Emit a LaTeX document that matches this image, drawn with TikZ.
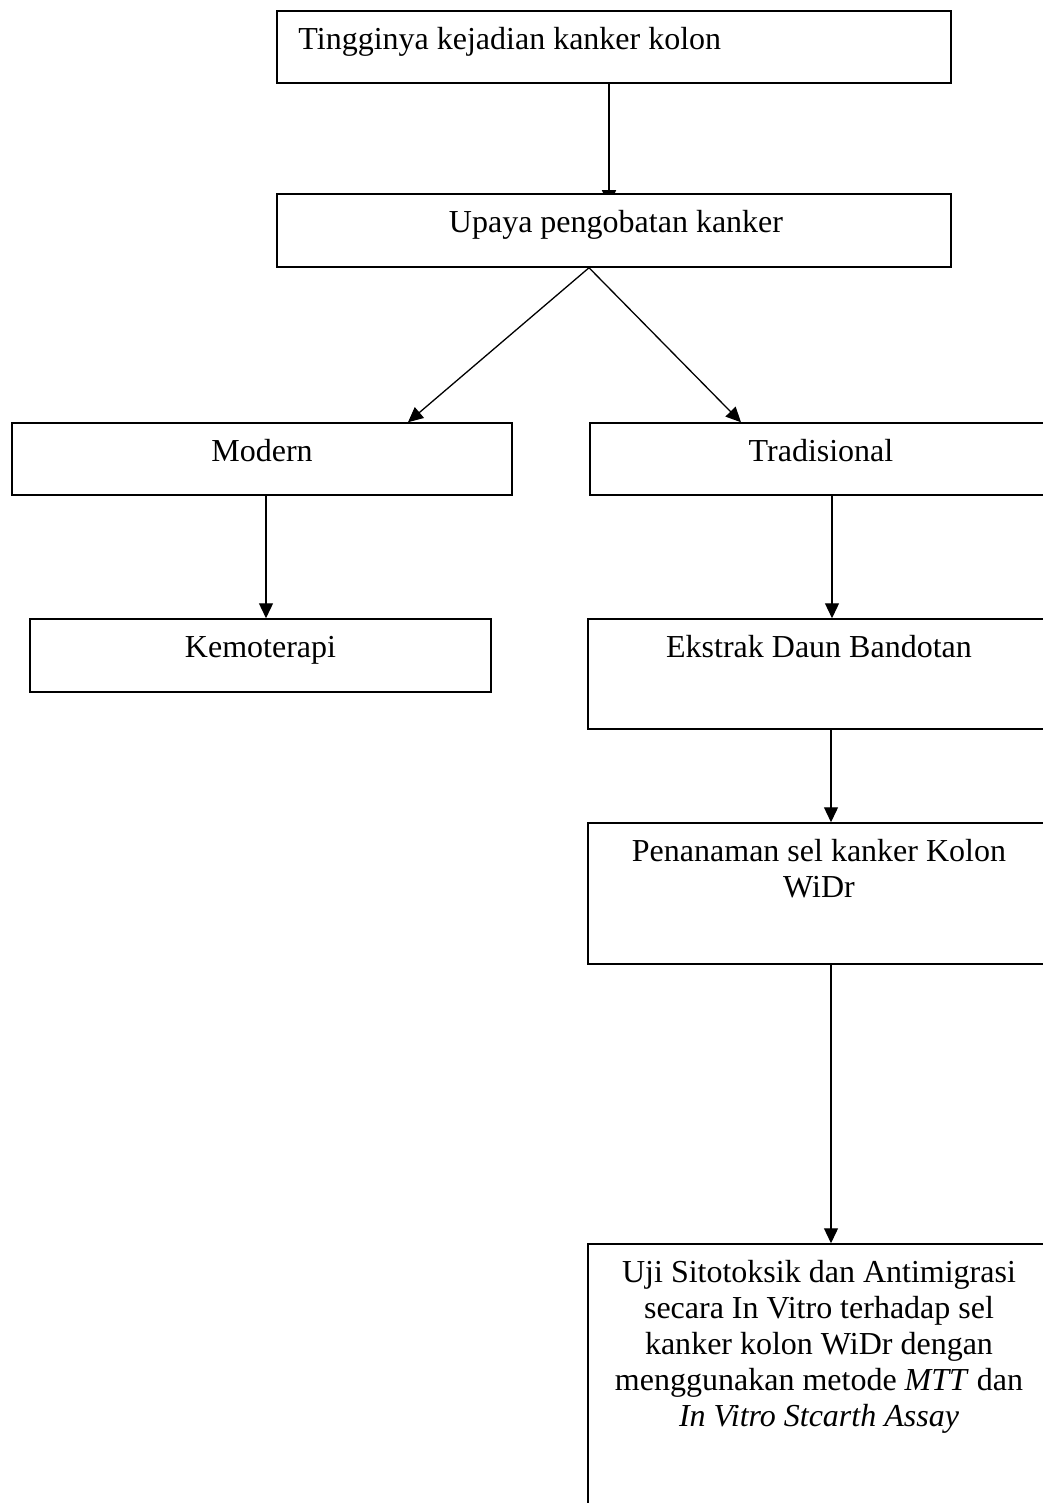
\documentclass[tikz,border=0pt]{standalone}
\usepackage{fontspec}
\setmainfont{Liberation Serif}
\usetikzlibrary{arrows.meta,backgrounds}
\begin{document}
\begin{tikzpicture}[x=1pt,y=-1pt,
  box/.style={draw, line width=1.5pt, fill=white, inner sep=0pt},
  lbl/.style={font=\fontsize{32}{36}\selectfont, inner sep=0pt, align=center},
  arr/.style={line width=1.3pt, -{Triangle[length=15pt,width=14pt]}}]
\useasboundingbox (0,0) rectangle (1043,1503);
\begin{scope}
\clip (0,0) rectangle (1043,1503);
% boxes
\node[box, minimum width=674pt, minimum height=72pt] (b1) at (614,47) {};
\node[box, minimum width=674pt, minimum height=73pt] (b2) at (614,230.5) {};
\node[box, minimum width=500pt, minimum height=72pt] (modern) at (262,459) {};
\node[box, minimum width=460pt, minimum height=72pt] (trad) at (820,459) {};
\node[box, minimum width=461pt, minimum height=73pt] (kemo) at (260.5,655.5) {};
\node[box, minimum width=462pt, minimum height=110pt] (ekstrak) at (819,674) {};
\node[box, minimum width=462pt, minimum height=141pt] (penan) at (819,893.5) {};
\node[box, minimum width=462pt, minimum height=276pt] (uji) at (819,1382) {};
% texts
\node[lbl, anchor=base west] (t1) at ([xshift=22pt,yshift=-39pt]b1.north west) {Tingginya kejadian kanker kolon};
\node[lbl, anchor=base] (t2) at ([xshift=2pt,yshift=-39pt]b2.north) {Upaya pengobatan kanker};
\node[lbl, anchor=base] (tm) at ([yshift=-39pt]modern.north) {Modern};
\node[lbl, anchor=base] (tt) at ([xshift=1pt,yshift=-39pt]trad.north) {Tradisional};
\node[lbl, anchor=base] (tk) at ([yshift=-39pt]kemo.north) {Kemoterapi};
\node[lbl, anchor=base] (te) at ([yshift=-39pt]ekstrak.north) {Ekstrak Daun Bandotan};
\node[lbl, anchor=north] (tp) at ([yshift=-14pt]penan.north) {\strut Penanaman sel kanker Kolon\\WiDr};
\node[lbl, anchor=north] (tu) at ([yshift=-14pt]uji.north) {\strut Uji Sitotoksik dan Antimigrasi\\secara In Vitro terhadap sel\\kanker kolon WiDr dengan\\menggunakan metode \textit{MTT} dan\\\textit{In Vitro Stcarth Assay}};
\end{scope}
\begin{scope}[on background layer]
\fill[white] (0,0) rectangle (1043,1503);
\draw[arr] ([xshift=-5pt]b1.south) -- ([xshift=-5pt,yshift=-12pt]b2.north);
\draw[arr] ([xshift=-25pt]b2.south) -- ([xshift=146pt]modern.north);
\draw[arr] ([xshift=-25pt]b2.south) -- ([xshift=-79pt]trad.north);
\draw[arr] ([xshift=4pt]modern.south) -- ([xshift=4pt]modern.south |- kemo.north);
\draw[arr] ([xshift=12pt]trad.south) -- ([xshift=12pt]trad.south |- ekstrak.north);
\draw[arr] ([xshift=12pt]ekstrak.south) -- ([xshift=12pt]ekstrak.south |- penan.north);
\draw[arr] ([xshift=12pt]penan.south) -- ([xshift=12pt]penan.south |- uji.north);
\end{scope}
\end{tikzpicture}
\end{document}
